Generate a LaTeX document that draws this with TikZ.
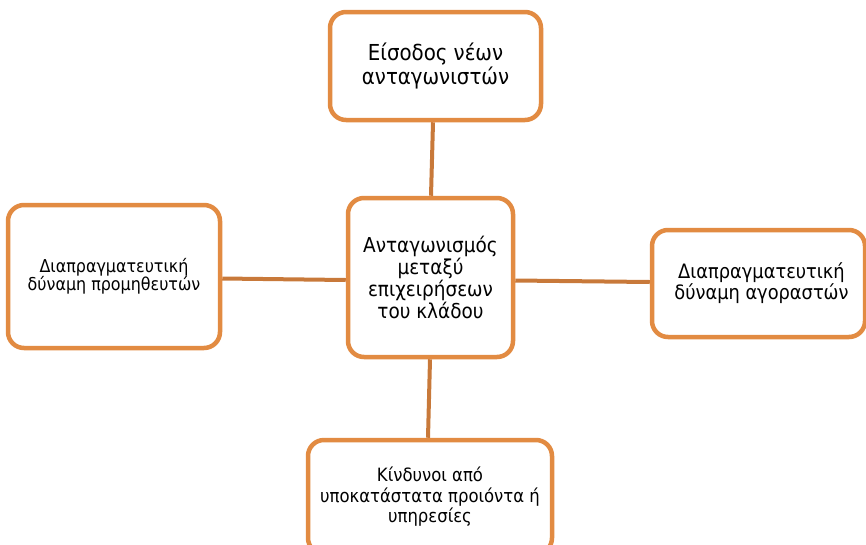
\documentclass[tikz,border=0pt]{standalone}
\usepackage{fontspec}
\setmainfont{DejaVu Sans Condensed}
\usetikzlibrary{backgrounds}
\definecolor{boxorange}{RGB}{226,139,66}
\definecolor{lineorange}{RGB}{200,121,58}
\tikzset{
  forcebox/.style={draw=boxorange, line width=4.5pt, fill=white, rounded corners=16pt,
    align=center, inner sep=0pt, text=black},
  conn/.style={draw=lineorange, line width=4pt},
}
\begin{document}
\begin{tikzpicture}[x=1pt,y=-1pt]
\useasboundingbox (0,0) rectangle (866,544);
\begin{scope}
\clip (0,0) rectangle (866,544);
\node[forcebox, minimum width=211pt, minimum height=108pt,
  font=\fontsize{22}{23.5}\selectfont] (top) at (435.5,66) {\raisebox{-3pt}{\parbox{200pt}{\centering Είσοδος νέων\\ανταγωνιστών}}};
\node[forcebox, minimum width=165pt, minimum height=159pt,
  font=\fontsize{20.5}{22}\selectfont] (mid) at (430.5,277.5) {Ανταγωνισμός\\μεταξύ\\επιχειρήσεων\\του κλάδου};
\node[forcebox, minimum width=212pt, minimum height=143pt,
  font=\fontsize{17.7}{18.5}\selectfont] (left) at (114,276.5) {\raisebox{-4pt}{\parbox{200pt}{\centering Διαπραγματευτική\\δύναμη προμηθευτών}}};
\node[forcebox, minimum width=213pt, minimum height=107pt,
  font=\fontsize{19.8}{19.5}\selectfont] (right) at (758.5,283.5) {\raisebox{-3pt}{\parbox{200pt}{\centering\hspace*{6pt}Διαπραγματευτική\\\hspace*{6pt}δύναμη αγοραστών}}};
\node[forcebox, minimum width=244pt, minimum height=114pt,
  font=\fontsize{18.3}{20.5}\selectfont] (bottom) at (430,497) {Κίνδυνοι από\\υποκατάστατα προιόντα ή\\υπηρεσίες};
\begin{scope}[on background layer]
\draw[conn] ([xshift=-2.5pt]top.south) -- ([xshift=0.5pt]mid.north);
\draw[conn] ([yshift=-2pt]left.east) -- ([yshift=-2.5pt]mid.west);
\draw[conn] ([yshift=-3pt]mid.east) -- ([yshift=1.5pt]right.west);
\draw[conn] ([xshift=-0.5pt]mid.south) -- ([xshift=-2pt]bottom.north);
\end{scope}
\end{scope}
\end{tikzpicture}
\end{document}
